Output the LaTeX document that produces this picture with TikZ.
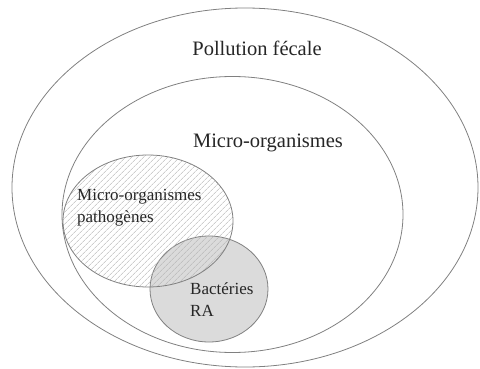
\documentclass[tikz,border=0pt]{standalone}
\usepackage{fontspec}
\setmainfont{Liberation Serif}
\usetikzlibrary{shapes.geometric,patterns.meta}
\tikzset{
  zone/.style={ellipse, draw=black!50, line width=0.8pt, inner sep=0pt},
  biglab/.style={font=\fontsize{20.5}{24}\selectfont, text=black!85},
  smalllab/.style={font=\fontsize{17}{22}\selectfont, text=black!85, align=left, inner sep=0pt}
}
\begin{document}
\begin{tikzpicture}[x=1pt,y=-1pt]
		\useasboundingbox (0,0) rectangle (480,369);
		% ensembles
		\node (fecal) [zone, minimum width=466pt, minimum height=359pt] at (245,187.5) {};
		\node (micro) [zone, minimum width=341pt, minimum height=276pt] at (232.5,214.5) {};
		\node (bact) [zone, fill=black!14, minimum width=118pt, minimum height=106pt] at (209,289) {};
		\node (patho) [zone, pattern={Lines[angle=45, distance=4pt, line width=0.5pt]}, pattern color=black!30, minimum width=170pt, minimum height=132pt] at (148,221) {};
		% etiquettes
		\node (lfecal) [biglab, anchor=base] at (257,56) {Pollution fécale};
		\node (lmicro) [biglab, anchor=base] at (268,147) {Micro-organismes};
		\node (lpatho) [smalllab, anchor=north west] at (77,189) {Micro-organismes\\pathogènes};
		\node (lbact) [smalllab, anchor=north west] at (190,282) {Bactéries\\RA};
\end{tikzpicture}
\end{document}
